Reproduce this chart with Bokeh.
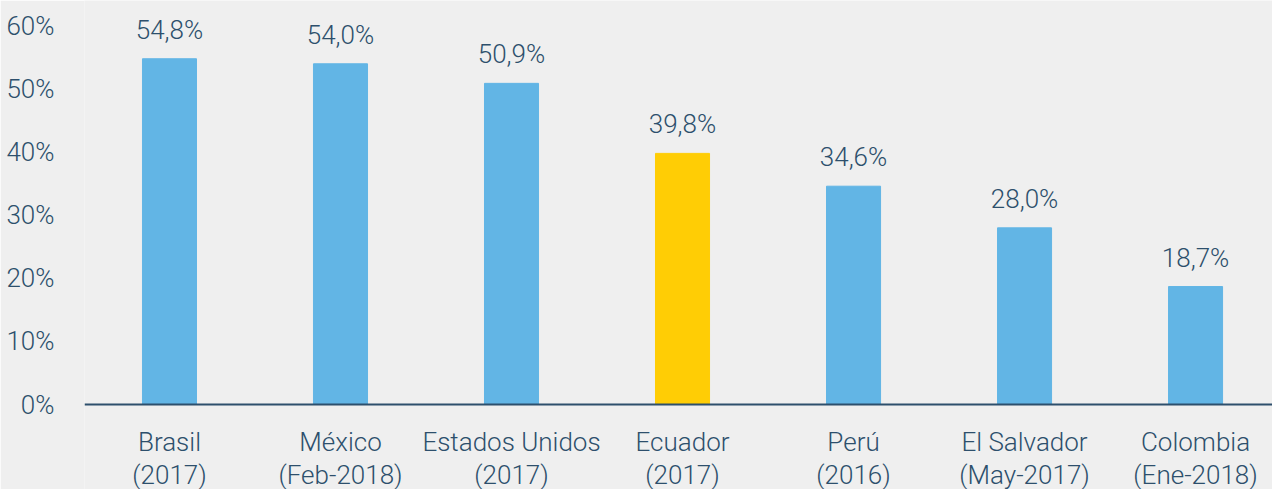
from bokeh.plotting import figure
from bokeh.models import ColumnDataSource, Range1d, FixedTicker, LabelSet, CustomJSTickFormatter, Span
from bokeh.core.properties import value
from bokeh.embed import file_html
from bokeh.resources import INLINE

countries = ["Brasil", "México", "Estados Unidos", "Ecuador", "Perú", "El Salvador", "Colombia"]
periods = ["(2017)", "(Feb-2018)", "(2017)", "(2017)", "(2016)", "(May-2017)", "(Ene-2018)"]
values = [54.8, 54.0, 50.9, 39.8, 34.6, 28.0, 18.7]
colors = ["#62b5e5", "#62b5e5", "#62b5e5", "#ffcd05", "#62b5e5", "#62b5e5", "#62b5e5"]
y_ticks = [0, 10, 20, 30, 40, 50, 60]

TEXT = "#2d4f6c"
FONT = "'Roboto Light', Roboto"
FS = "26px"
BG = "#efefef"

xs = list(range(len(countries)))
labels = [f"{v:.1f}".replace(".", ",") + "%" for v in values]
src = ColumnDataSource(dict(x=xs, top=values, color=colors, label=labels,
                            zero=[0] * len(xs), country=countries, period=periods))

p = figure(width=1272, height=489, output_backend="svg", toolbar_location=None,
           x_range=Range1d(-0.497, 6.45), y_range=Range1d(-13.47, 64.03),
           min_border_left=84, min_border_right=0, min_border_top=0, min_border_bottom=0)
p.background_fill_color = BG
p.border_fill_color = BG
p.outline_line_color = None
p.grid.grid_line_color = None
p.xaxis.visible = False

p.vbar(x="x", top="top", width=0.316, bottom=0, color="color", source=src)
p.add_layout(Span(location=0, dimension="width", line_color=TEXT, line_width=2))

p.add_layout(LabelSet(x="x", y="top", text="label", source=src, text_align="center",
                      text_baseline="alphabetic", y_offset=20, text_color=TEXT,
                      text_font=value(FONT), text_font_size=FS))
p.add_layout(LabelSet(x="x", y="zero", text="country", source=src, text_align="center",
                      text_baseline="alphabetic", y_offset=-46, text_color=TEXT,
                      text_font=value(FONT), text_font_size=FS))
p.add_layout(LabelSet(x="x", y="zero", text="period", source=src, text_align="center",
                      text_baseline="alphabetic", y_offset=-79, text_color=TEXT,
                      text_font=value(FONT), text_font_size=FS))

p.yaxis.ticker = FixedTicker(ticks=y_ticks)
p.yaxis.formatter = CustomJSTickFormatter(code="return tick + '%';")
p.yaxis.axis_line_color = None
p.yaxis.major_tick_line_color = None
p.yaxis.minor_tick_line_color = None
p.yaxis.major_label_text_color = TEXT
p.yaxis.major_label_text_font = FONT
p.yaxis.major_label_text_font_size = FS
p.yaxis.major_label_standoff = 24

open("out.html", "w").write(file_html(p, INLINE))
